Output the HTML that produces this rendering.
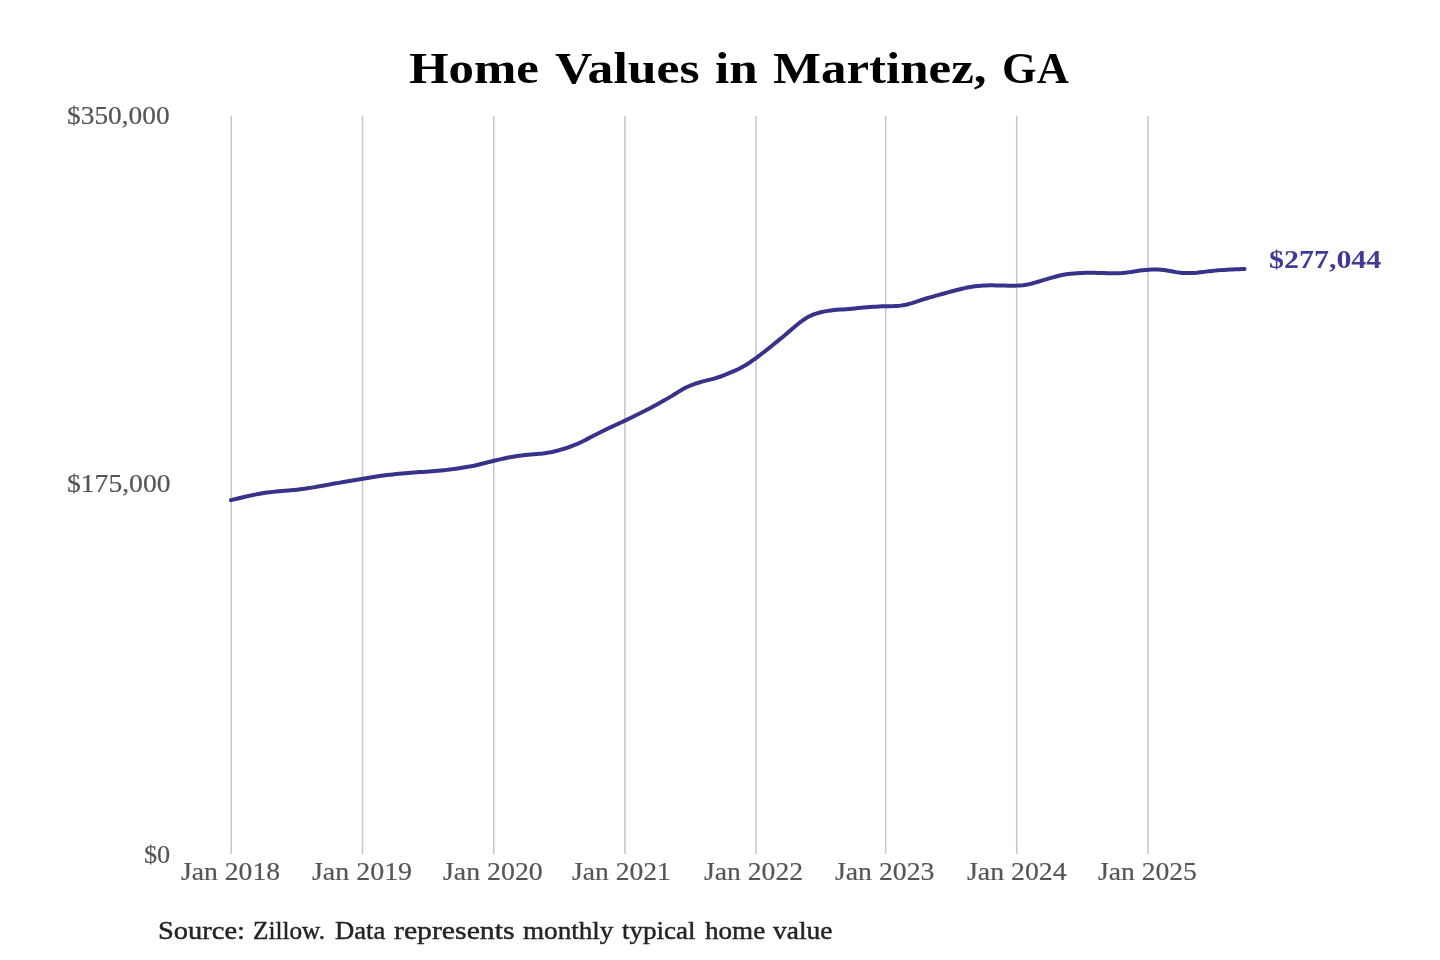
<!DOCTYPE html>
<html><head><meta charset="utf-8"><style>
html,body{margin:0;padding:0;background:#fff;}
body{width:1440px;height:960px;position:relative;overflow:hidden;font-family:"Liberation Serif",serif;}
.t{position:absolute;white-space:nowrap;line-height:1;transform-origin:0 0;will-change:transform;}
svg{position:absolute;left:0;top:0;}
</style></head><body>
<svg width="1440" height="960" viewBox="0 0 1440 960">
<g stroke="#c6c6c6" stroke-width="1.5"><line x1="231.30" y1="116.0" x2="231.30" y2="854.0" /><line x1="362.50" y1="116.0" x2="362.50" y2="854.0" /><line x1="493.75" y1="116.0" x2="493.75" y2="854.0" /><line x1="624.90" y1="116.0" x2="624.90" y2="854.0" /><line x1="756.05" y1="116.0" x2="756.05" y2="854.0" /><line x1="885.70" y1="116.0" x2="885.70" y2="854.0" /><line x1="1016.70" y1="116.0" x2="1016.70" y2="854.0" /><line x1="1148.00" y1="116.0" x2="1148.00" y2="854.0" /></g>
<path d="M231.00,500.18 L234.00,499.43 L237.00,498.69 L240.00,497.97 L243.00,497.26 L246.00,496.57 L249.00,495.89 L252.00,495.25 L255.00,494.63 L258.00,494.05 L261.00,493.51 L264.00,493.01 L267.00,492.58 L270.00,492.21 L273.00,491.88 L276.00,491.59 L279.00,491.33 L282.00,491.07 L285.00,490.82 L288.00,490.57 L291.00,490.30 L294.00,490.02 L297.00,489.71 L300.00,489.36 L303.00,488.97 L306.00,488.54 L309.00,488.09 L312.00,487.61 L315.00,487.11 L318.00,486.59 L321.00,486.04 L324.00,485.48 L327.00,484.92 L330.00,484.37 L333.00,483.84 L336.00,483.34 L339.00,482.85 L342.00,482.34 L345.00,481.82 L348.00,481.31 L351.00,480.79 L354.00,480.28 L357.00,479.77 L360.00,479.25 L363.00,478.73 L366.00,478.21 L369.00,477.69 L372.00,477.19 L375.00,476.70 L378.00,476.24 L381.00,475.82 L384.00,475.42 L387.00,475.06 L390.00,474.72 L393.00,474.40 L396.00,474.10 L399.00,473.81 L402.00,473.54 L405.00,473.27 L408.00,473.01 L411.00,472.76 L414.00,472.53 L417.00,472.31 L420.00,472.10 L423.00,471.89 L426.00,471.68 L429.00,471.47 L432.00,471.25 L435.00,471.02 L438.00,470.77 L441.00,470.50 L444.00,470.20 L447.00,469.87 L450.00,469.51 L453.00,469.11 L456.00,468.66 L459.00,468.17 L462.00,467.70 L465.00,467.24 L468.00,466.77 L471.00,466.26 L474.00,465.68 L477.00,465.01 L480.00,464.29 L483.00,463.54 L486.00,462.79 L489.00,462.04 L492.00,461.30 L495.00,460.56 L498.00,459.83 L501.00,459.13 L504.00,458.45 L507.00,457.82 L510.00,457.24 L513.00,456.71 L516.00,456.24 L519.00,455.80 L522.00,455.41 L525.00,455.07 L528.00,454.76 L531.00,454.50 L534.00,454.26 L537.00,454.02 L540.00,453.75 L543.00,453.42 L546.00,453.00 L549.00,452.50 L552.00,451.93 L555.00,451.27 L558.00,450.51 L561.00,449.66 L564.00,448.75 L567.00,447.78 L570.00,446.75 L573.00,445.64 L576.00,444.46 L579.00,443.15 L582.00,441.72 L585.00,440.20 L588.00,438.63 L591.00,437.07 L594.00,435.54 L597.00,434.02 L600.00,432.50 L603.00,430.97 L606.00,429.46 L609.00,428.00 L612.00,426.59 L615.00,425.20 L618.00,423.83 L621.00,422.46 L624.00,421.07 L627.00,419.66 L630.00,418.21 L633.00,416.74 L636.00,415.25 L639.00,413.75 L642.00,412.24 L645.00,410.74 L648.00,409.21 L651.00,407.65 L654.00,406.06 L657.00,404.43 L660.00,402.78 L663.00,401.09 L666.00,399.38 L669.00,397.64 L672.00,395.85 L675.00,394.00 L678.00,392.13 L681.00,390.30 L684.00,388.59 L687.00,387.05 L690.00,385.70 L693.00,384.52 L696.00,383.47 L699.00,382.54 L702.00,381.69 L705.00,380.90 L708.00,380.14 L711.00,379.38 L714.00,378.59 L717.00,377.72 L720.00,376.75 L723.00,375.65 L726.00,374.44 L729.00,373.17 L732.00,371.89 L735.00,370.59 L738.00,369.21 L741.00,367.73 L744.00,366.10 L747.00,364.28 L750.00,362.30 L753.00,360.19 L756.00,358.01 L759.00,355.78 L762.00,353.52 L765.00,351.21 L768.00,348.86 L771.00,346.46 L774.00,344.02 L777.00,341.58 L780.00,339.14 L783.00,336.67 L786.00,334.17 L789.00,331.63 L792.00,329.07 L795.00,326.53 L798.00,324.04 L801.00,321.68 L804.00,319.51 L807.00,317.60 L810.00,315.99 L813.00,314.69 L816.00,313.64 L819.00,312.77 L822.00,312.02 L825.00,311.39 L828.00,310.86 L831.00,310.41 L834.00,310.05 L837.00,309.78 L840.00,309.57 L843.00,309.39 L846.00,309.20 L849.00,308.98 L852.00,308.72 L855.00,308.42 L858.00,308.11 L861.00,307.80 L864.00,307.51 L867.00,307.25 L870.00,307.02 L873.00,306.82 L876.00,306.65 L879.00,306.50 L882.00,306.37 L885.00,306.27 L888.00,306.20 L891.00,306.13 L894.00,306.05 L897.00,305.90 L900.00,305.64 L903.00,305.25 L906.00,304.69 L909.00,303.95 L912.00,303.08 L915.00,302.13 L918.00,301.14 L921.00,300.14 L924.00,299.17 L927.00,298.28 L930.00,297.44 L933.00,296.58 L936.00,295.70 L939.00,294.85 L942.00,294.02 L945.00,293.20 L948.00,292.36 L951.00,291.54 L954.00,290.76 L957.00,290.01 L960.00,289.27 L963.00,288.52 L966.00,287.83 L969.00,287.22 L972.00,286.71 L975.00,286.29 L978.00,285.95 L981.00,285.69 L984.00,285.52 L987.00,285.41 L990.00,285.36 L993.00,285.37 L996.00,285.41 L999.00,285.46 L1002.00,285.52 L1005.00,285.58 L1008.00,285.63 L1011.00,285.66 L1014.00,285.66 L1017.00,285.61 L1020.00,285.47 L1023.00,285.21 L1026.00,284.77 L1029.00,284.18 L1032.00,283.46 L1035.00,282.65 L1038.00,281.78 L1041.00,280.88 L1044.00,279.96 L1047.00,279.06 L1050.00,278.17 L1053.00,277.30 L1056.00,276.48 L1059.00,275.72 L1062.00,275.07 L1065.00,274.52 L1068.00,274.08 L1071.00,273.76 L1074.00,273.52 L1077.00,273.31 L1080.00,273.12 L1083.00,272.95 L1086.00,272.82 L1089.00,272.76 L1092.00,272.77 L1095.00,272.82 L1098.00,272.91 L1101.00,273.00 L1104.00,273.08 L1107.00,273.15 L1110.00,273.22 L1113.00,273.28 L1116.00,273.28 L1119.00,273.21 L1122.00,273.04 L1125.00,272.76 L1128.00,272.38 L1131.00,271.94 L1134.00,271.48 L1137.00,271.02 L1140.00,270.60 L1143.00,270.24 L1146.00,269.95 L1149.00,269.72 L1152.00,269.54 L1155.00,269.45 L1158.00,269.49 L1161.00,269.71 L1164.00,270.05 L1167.00,270.50 L1170.00,271.00 L1173.00,271.54 L1176.00,272.11 L1179.00,272.60 L1182.00,272.92 L1185.00,273.08 L1188.00,273.10 L1191.00,273.04 L1194.00,272.90 L1197.00,272.67 L1200.00,272.35 L1203.00,271.98 L1206.00,271.61 L1209.00,271.25 L1212.00,270.92 L1215.00,270.63 L1218.00,270.36 L1221.00,270.13 L1224.00,269.92 L1227.00,269.75 L1230.00,269.59 L1233.00,269.45 L1236.00,269.32 L1239.00,269.20 L1242.00,269.09 L1244.60,269.00" fill="none" stroke="#37328a" stroke-width="4.0" stroke-linecap="round" stroke-linejoin="round"/>
</svg>
<div class="t" style="left:408.96px;top:46.90px;font-size:44.00px;font-weight:bold;color:#000;transform:scaleX(1.1559)">Home</div><div class="t" style="left:555.20px;top:46.90px;font-size:44.00px;font-weight:bold;color:#000;transform:scaleX(1.1739)">Values</div><div class="t" style="left:714.75px;top:46.90px;font-size:44.00px;font-weight:bold;color:#000;transform:scaleX(1.1623)">in</div><div class="t" style="left:772.75px;top:46.90px;font-size:44.00px;font-weight:bold;color:#000;transform:scaleX(1.1572)">Martinez,</div><div class="t" style="left:1001.97px;top:46.90px;font-size:44.00px;font-weight:bold;color:#000;transform:scaleX(1.0121)">GA</div><div class="t" style="left:67.06px;top:103.10px;font-size:26.00px;font-weight:normal;color:#555;transform:scaleX(1.0530);-webkit-text-stroke:0.20px #555">$350,000</div><div class="t" style="left:67.03px;top:471.10px;font-size:26.00px;font-weight:normal;color:#555;transform:scaleX(1.0616);-webkit-text-stroke:0.20px #555">$175,000</div><div class="t" style="left:144.38px;top:841.75px;font-size:26.00px;font-weight:normal;color:#555;transform:scaleX(1.0096);-webkit-text-stroke:0.20px #555">$0</div><div class="t" style="left:180.52px;top:858.50px;font-size:26.00px;font-weight:normal;color:#555;transform:scaleX(1.0639);-webkit-text-stroke:0.20px #555">Jan 2018</div><div class="t" style="left:311.82px;top:858.50px;font-size:26.00px;font-weight:normal;color:#555;transform:scaleX(1.0740);-webkit-text-stroke:0.20px #555">Jan 2019</div><div class="t" style="left:442.52px;top:858.50px;font-size:26.00px;font-weight:normal;color:#555;transform:scaleX(1.0709);-webkit-text-stroke:0.20px #555">Jan 2020</div><div class="t" style="left:572.03px;top:858.50px;font-size:26.00px;font-weight:normal;color:#555;transform:scaleX(1.0607);-webkit-text-stroke:0.20px #555">Jan 2021</div><div class="t" style="left:704.17px;top:858.50px;font-size:26.00px;font-weight:normal;color:#555;transform:scaleX(1.0634);-webkit-text-stroke:0.20px #555">Jan 2022</div><div class="t" style="left:834.92px;top:858.50px;font-size:26.00px;font-weight:normal;color:#555;transform:scaleX(1.0673);-webkit-text-stroke:0.20px #555">Jan 2023</div><div class="t" style="left:966.72px;top:858.50px;font-size:26.00px;font-weight:normal;color:#555;transform:scaleX(1.0697);-webkit-text-stroke:0.20px #555">Jan 2024</div><div class="t" style="left:1097.71px;top:858.50px;font-size:26.00px;font-weight:normal;color:#555;transform:scaleX(1.0604);-webkit-text-stroke:0.20px #555">Jan 2025</div><div class="t" style="left:1268.54px;top:247.40px;font-size:26.00px;font-weight:bold;color:#403b93;transform:scaleX(1.1520)">$277,044</div><div class="t" style="left:158.48px;top:917.50px;font-size:25.00px;font-weight:normal;color:#242424;transform:scaleX(1.1389);-webkit-text-stroke:0.45px #242424">Source:</div><div class="t" style="left:252.64px;top:917.50px;font-size:25.00px;font-weight:normal;color:#242424;transform:scaleX(1.0096);-webkit-text-stroke:0.45px #242424">Zillow.</div><div class="t" style="left:334.59px;top:917.50px;font-size:25.00px;font-weight:normal;color:#242424;transform:scaleX(1.0651);-webkit-text-stroke:0.45px #242424">Data</div><div class="t" style="left:393.69px;top:917.50px;font-size:25.00px;font-weight:normal;color:#242424;transform:scaleX(1.1894);-webkit-text-stroke:0.45px #242424">represents</div><div class="t" style="left:522.81px;top:917.50px;font-size:25.00px;font-weight:normal;color:#242424;transform:scaleX(1.0839);-webkit-text-stroke:0.45px #242424">monthly</div><div class="t" style="left:621.52px;top:917.50px;font-size:25.00px;font-weight:normal;color:#242424;transform:scaleX(1.0817);-webkit-text-stroke:0.45px #242424">typical</div><div class="t" style="left:704.52px;top:917.50px;font-size:25.00px;font-weight:normal;color:#242424;transform:scaleX(1.0839);-webkit-text-stroke:0.45px #242424">home</div><div class="t" style="left:773.20px;top:917.50px;font-size:25.00px;font-weight:normal;color:#242424;transform:scaleX(1.0977);-webkit-text-stroke:0.45px #242424">value</div>
</body></html>
